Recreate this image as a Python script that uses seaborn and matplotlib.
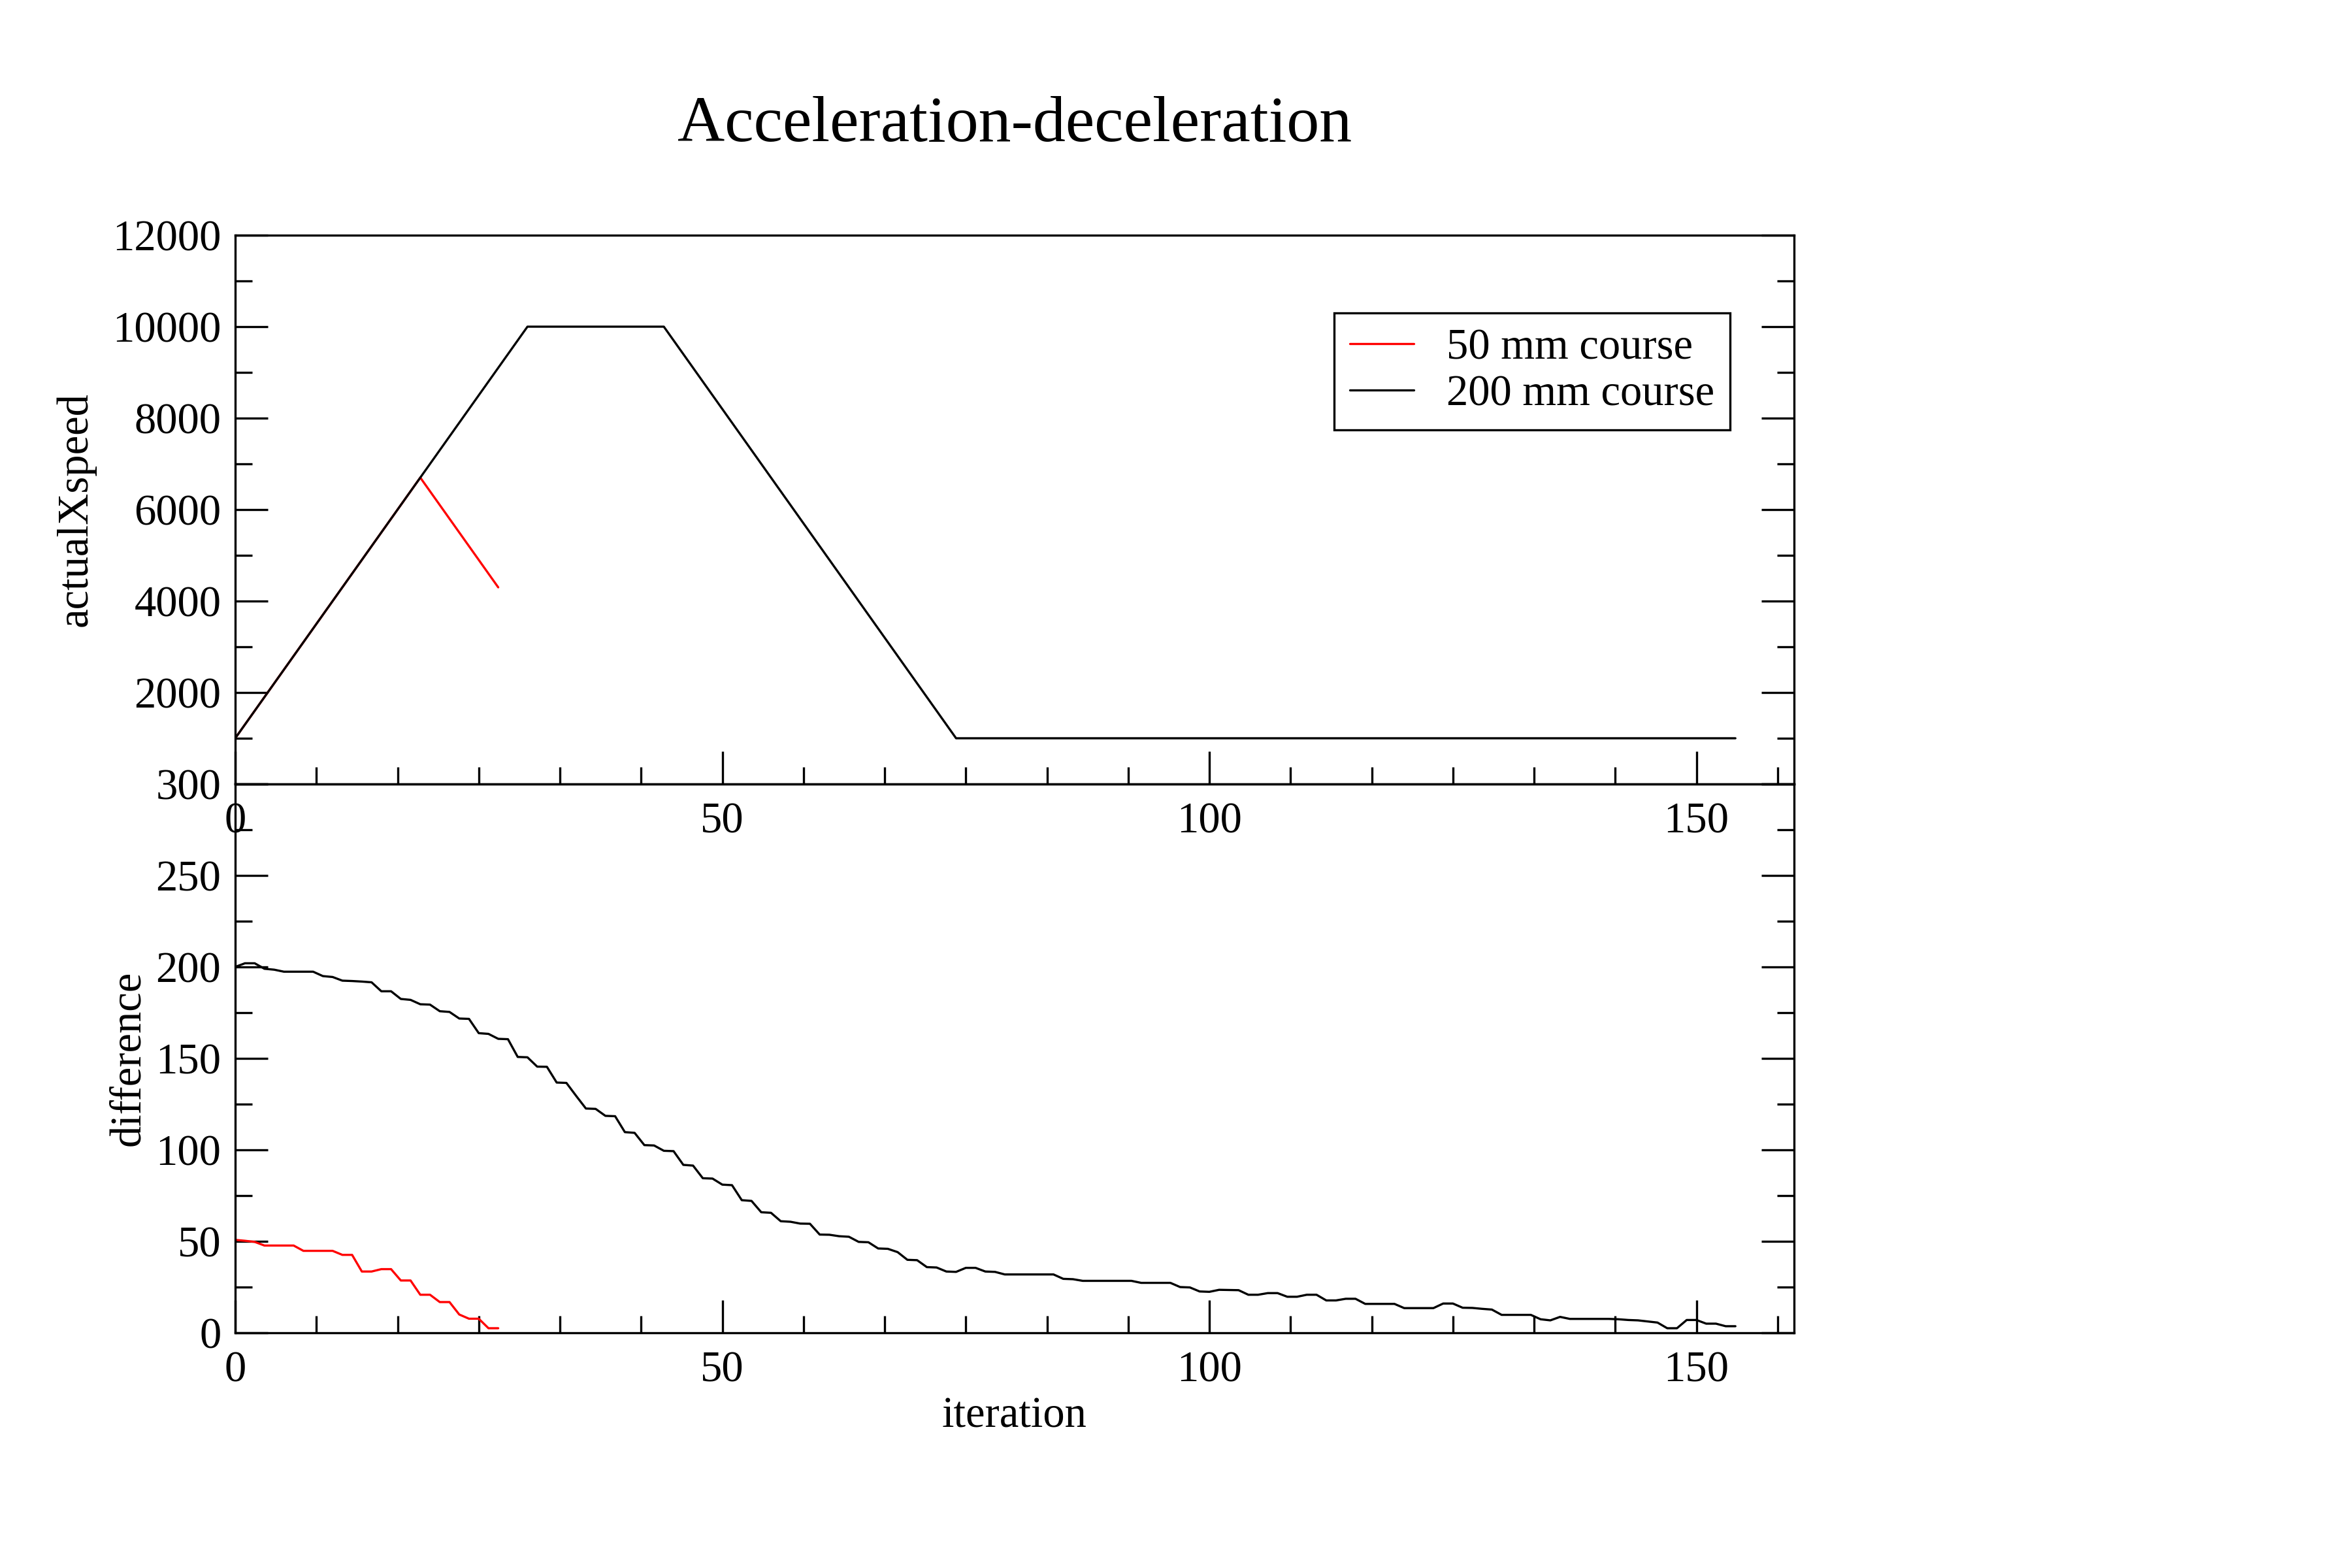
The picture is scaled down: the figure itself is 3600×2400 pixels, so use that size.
import matplotlib
matplotlib.use("Agg")
import matplotlib.pyplot as plt
from matplotlib.ticker import MultipleLocator, AutoMinorLocator, FuncFormatter
import seaborn as sns

# top panel: speed profile (breakpoints)
iter_speed_200 = [0, 30, 44, 74, 154]
speed_200 = [1000, 10000, 10000, 1000, 1000]
iter_speed_50 = [0, 19, 27]
speed_50 = [1000, 6700, 4300]

# bottom panel: remaining difference per iteration
diff_200 = [
    200, 202, 202, 199, 198.5, 197.4, 197.4, 197.4, 197.4, 195,
    194.5, 192.5, 192.3, 192, 191.6, 186.7, 186.7, 182.5, 182, 179.6,
    179.4, 175.8, 175.4, 171.8, 171.6, 163.8, 163.4, 160.7, 160.5, 150.8,
    150.6, 145.5, 145.4, 136.8, 136.6, 129.5, 122.6, 122.4, 118.6, 118.4,
    109.7, 109.3, 102.6, 102.4, 99.5, 99.3, 91.8, 91.4, 84.5, 84.3,
    81, 80.7, 72.5, 72.1, 65.9, 65.6, 61, 60.7, 59.7, 59.6,
    53.7, 53.6, 52.8, 52.5, 49.7, 49.5, 46.1, 45.9, 44.1, 39.9,
    39.7, 35.9, 35.7, 33.5, 33.3, 35.5, 35.5, 33.5, 33.3, 31.9,
    31.9, 31.9, 31.9, 31.9, 31.9, 29.5, 29.3, 28.4, 28.4, 28.4,
    28.4, 28.4, 28.4, 27.3, 27.3, 27.3, 27.3, 25.0, 24.8, 22.6,
    22.4, 23.5, 23.4, 23.3, 20.8, 20.8, 21.7, 21.7, 19.7, 19.7,
    20.8, 20.8, 17.7, 17.7, 18.6, 18.6, 15.8, 15.8, 15.8, 15.8,
    13.5, 13.5, 13.5, 13.5, 16, 16, 13.7, 13.6, 13.1, 12.7,
    9.8, 9.8, 9.8, 9.8, 7.4, 6.8, 8.7, 7.6, 7.6, 7.6,
    7.6, 7.6, 7.4, 7.0, 6.8, 6.2, 5.6, 2.5, 2.5, 7.0,
    7.0, 5.0, 5.0, 3.6, 3.6,
]
diff_50 = [
    50.8, 50.3, 49.7, 47.7, 47.7, 47.7, 47.7, 44.8, 44.8, 44.8,
    44.8, 42.6, 42.6, 33.5, 33.5, 34.8, 34.8, 28.6, 28.6, 20.8,
    20.8, 16.8, 16.8, 10, 7.7, 7.7, 2.5, 2.5,
]
iter_200 = list(range(len(diff_200)))
iter_50 = list(range(len(diff_50)))

sns.set_theme(style="ticks")
plt.rcParams["font.family"] = ["Liberation Serif", "DejaVu Serif"]
plt.rcParams.update({
    "font.size": 16,
    "text.color": "black",
    "axes.labelcolor": "black",
    "axes.linewidth": 0.8,
    "axes.edgecolor": "black",
    "xtick.direction": "in",
    "ytick.direction": "in",
    "xtick.color": "black",
    "ytick.color": "black",
    "xtick.labelcolor": "black",
    "ytick.labelcolor": "black",
    "xtick.labelsize": 16,
    "ytick.labelsize": 16,
    "xtick.major.size": 11.9,
    "ytick.major.size": 11.9,
    "xtick.minor.size": 6.2,
    "ytick.minor.size": 6.2,
    "xtick.major.width": 0.8,
    "ytick.major.width": 0.8,
    "xtick.minor.width": 0.8,
    "ytick.minor.width": 0.8,
    "xtick.major.pad": 6.6,
    "xtick.minor.pad": 6.6,
    "ytick.major.pad": 5.2,
    "ytick.minor.pad": 5.2,
})

fig = plt.figure(figsize=(12, 8), dpi=300, facecolor="white")
ax1 = fig.add_axes([0.1, 0.5, 0.6627, 0.35])
ax2 = fig.add_axes([0.1, 0.15, 0.6627, 0.35])
for ax in (ax1, ax2):
    ax.set_facecolor("none")

# top: speed
sns.lineplot(x=iter_speed_50, y=speed_50, ax=ax1, color="red", lw=0.8,
             label="50 mm course", estimator=None, sort=False)
sns.lineplot(x=iter_speed_200, y=speed_200, ax=ax1, color="black", lw=0.8,
             label="200 mm course", estimator=None, sort=False)
ax1.set_ylim(0, 12000)
ax1.yaxis.set_major_locator(MultipleLocator(2000))
# the bottom panel's "300" sits on the same spot as this "0"
ax1.yaxis.set_major_formatter(FuncFormatter(lambda v, p: "" if v == 0 else f"{v:g}"))
ax1.set_ylabel("actualXspeed", fontsize=16, color="black")
ax1.yaxis.set_label_coords(-0.0893, 0.5)
leg = ax1.legend(loc="upper right", bbox_to_anchor=(0.959, 0.858), borderaxespad=0,
                 fontsize=16, frameon=True, fancybox=False, framealpha=1,
                 edgecolor="black", handlelength=1.48, handletextpad=0.75,
                 borderpad=0.35, labelspacing=0.15)
leg.get_frame().set_linewidth(0.8)
for t in leg.get_texts():
    t.set_color("black")

# bottom: difference
sns.lineplot(x=iter_50, y=diff_50, ax=ax2, color="red", lw=0.8,
             estimator=None, sort=False)
sns.lineplot(x=iter_200, y=diff_200, ax=ax2, color="black", lw=0.8,
             estimator=None, sort=False)
ax2.set_ylim(0, 300)
ax2.yaxis.set_major_locator(MultipleLocator(50))
ax2.set_ylabel("difference", fontsize=16, color="black")
ax2.yaxis.set_label_coords(-0.0555, 0.5)
ax2.set_xlabel("iteration", fontsize=16, color="black")
ax2.xaxis.set_label_coords(0.5, -0.1155)

for ax in (ax1, ax2):
    ax.set_xlim(0, 160)
    ax.xaxis.set_major_locator(MultipleLocator(50))
    ax.xaxis.set_minor_locator(AutoMinorLocator(6))
    ax.yaxis.set_minor_locator(AutoMinorLocator(2))
    ax.tick_params(axis="x", which="both", top=False, bottom=True)
    ax.tick_params(axis="y", which="both", left=True, right=True)
    for s in ax.spines.values():
        s.set_visible(True)
        s.set_color("black")
        s.set_linewidth(0.8)

fig.text(0.4314, 0.91, "Acceleration-deceleration", ha="center", va="baseline",
         fontsize=24, color="black")

fig.savefig("out.png", dpi=300, facecolor="white")
